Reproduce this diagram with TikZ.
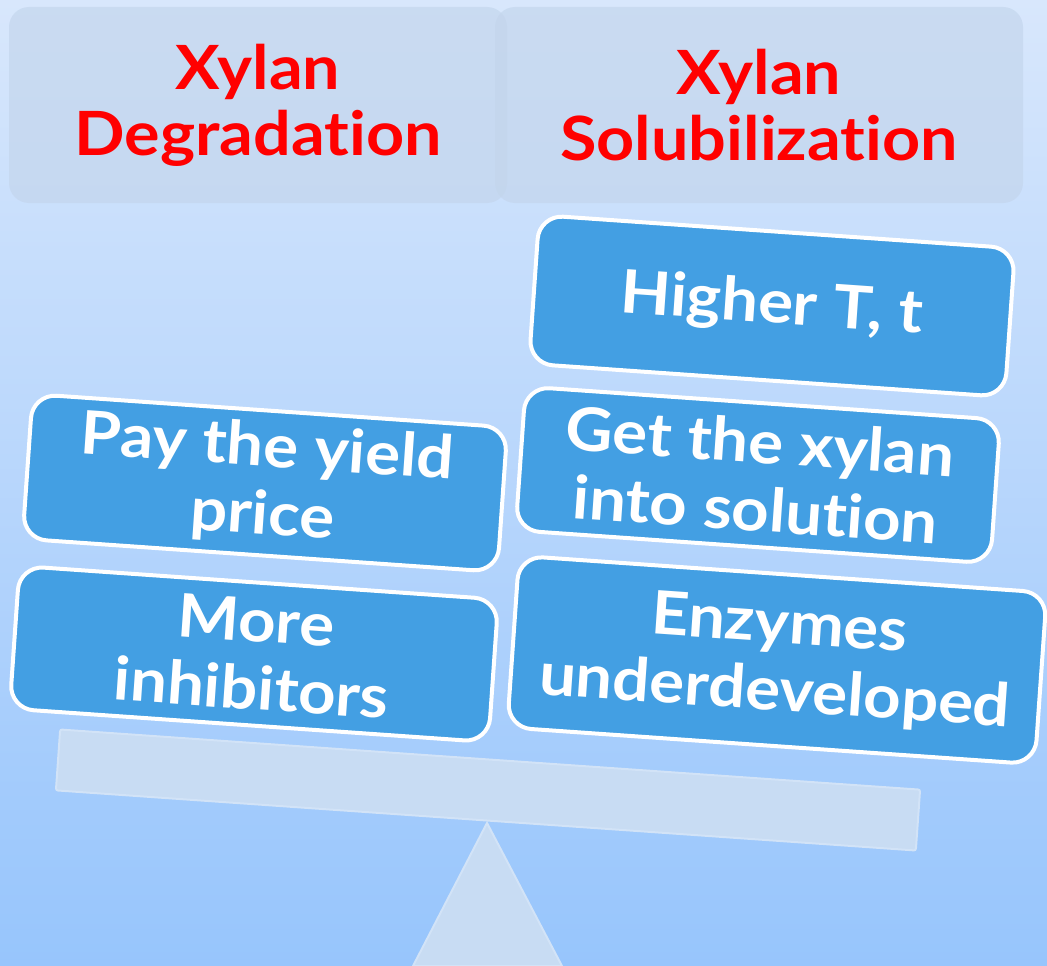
\documentclass[tikz,border=0pt]{standalone}
\usepackage{fontspec}
\setsansfont{Lato}[Ligatures=NoCommon, FakeStretch=1.09]
\usetikzlibrary{positioning}
\definecolor{bgtop}{HTML}{D8E7FC}
\definecolor{bgbot}{HTML}{97C5FC}
\definecolor{headfill}{HTML}{C3D5EC}
\definecolor{causeblue}{HTML}{439FE3}
\definecolor{beamfill}{HTML}{C8DCF3}
\definecolor{beamline}{HTML}{D2E3F7}
\tikzset{
  headbox/.style={
    rectangle, rounded corners=20pt, fill=headfill, fill opacity=0.65,
    text opacity=1, text=red, minimum height=196pt, inner sep=0pt,
    font=\fontsize{61}{66}\selectfont\sffamily\bfseries, align=center
  },
  causebox/.style={
    rectangle, rounded corners=24pt, draw=white, line width=4pt,
    fill=causeblue, text=white, rotate=-4, inner sep=0pt,
    font=\fontsize{60}{68}\selectfont\sffamily\bfseries, align=center
  },
  beambox/.style={
    rectangle, rounded corners=2pt, draw=beamline, line width=2pt,
    fill=beamfill, rotate=-4
  },
}
\begin{document}
\begin{tikzpicture}[x=1pt,y=-1pt]
  \useasboundingbox (0,0) rectangle (1047,966);
  \shade[top color=bgtop, bottom color=bgbot] (0,0) rectangle (1047,966);

  % seesaw
  \coordinate (pivot) at (487,823);
  \coordinate (footL) at (413,966);
  \coordinate (footR) at (562,966);
  \filldraw[fill=beamfill, draw=beamline, line width=2pt]
    (pivot) -- (footL) -- (footR) -- cycle;
  \node[beambox, minimum width=862pt, minimum height=61pt] (beam) at (488,790) {};

  % the two sides
  \node[headbox, minimum width=528pt] (solub) at (759,105) {Xylan\\Solubilization};
  \node[headbox, minimum width=498pt] (degrad) at (258,105) {Xylan\\Degradation};

  % weights on the left pan
  \node[causebox, minimum width=476pt, minimum height=145pt] (pay) at (265,483)
    {Pay the yield\\price};
  \node[causebox, minimum width=480pt, minimum height=143pt] (inhib) at (254,654)
    {More\\inhibitors};

  % weights on the right pan
  \node[causebox, minimum width=477pt, minimum height=149pt] (hight) at (772,306)
    {Higher T, t};
  \node[causebox, minimum width=476pt, minimum height=144pt] (getxyl) at (758,475)
    {Get the xylan\\into solution};
  \node[causebox, minimum width=529pt, minimum height=172pt] (enzym) at (777,660)
    {Enzymes\\underdeveloped};
\end{tikzpicture}
\end{document}
